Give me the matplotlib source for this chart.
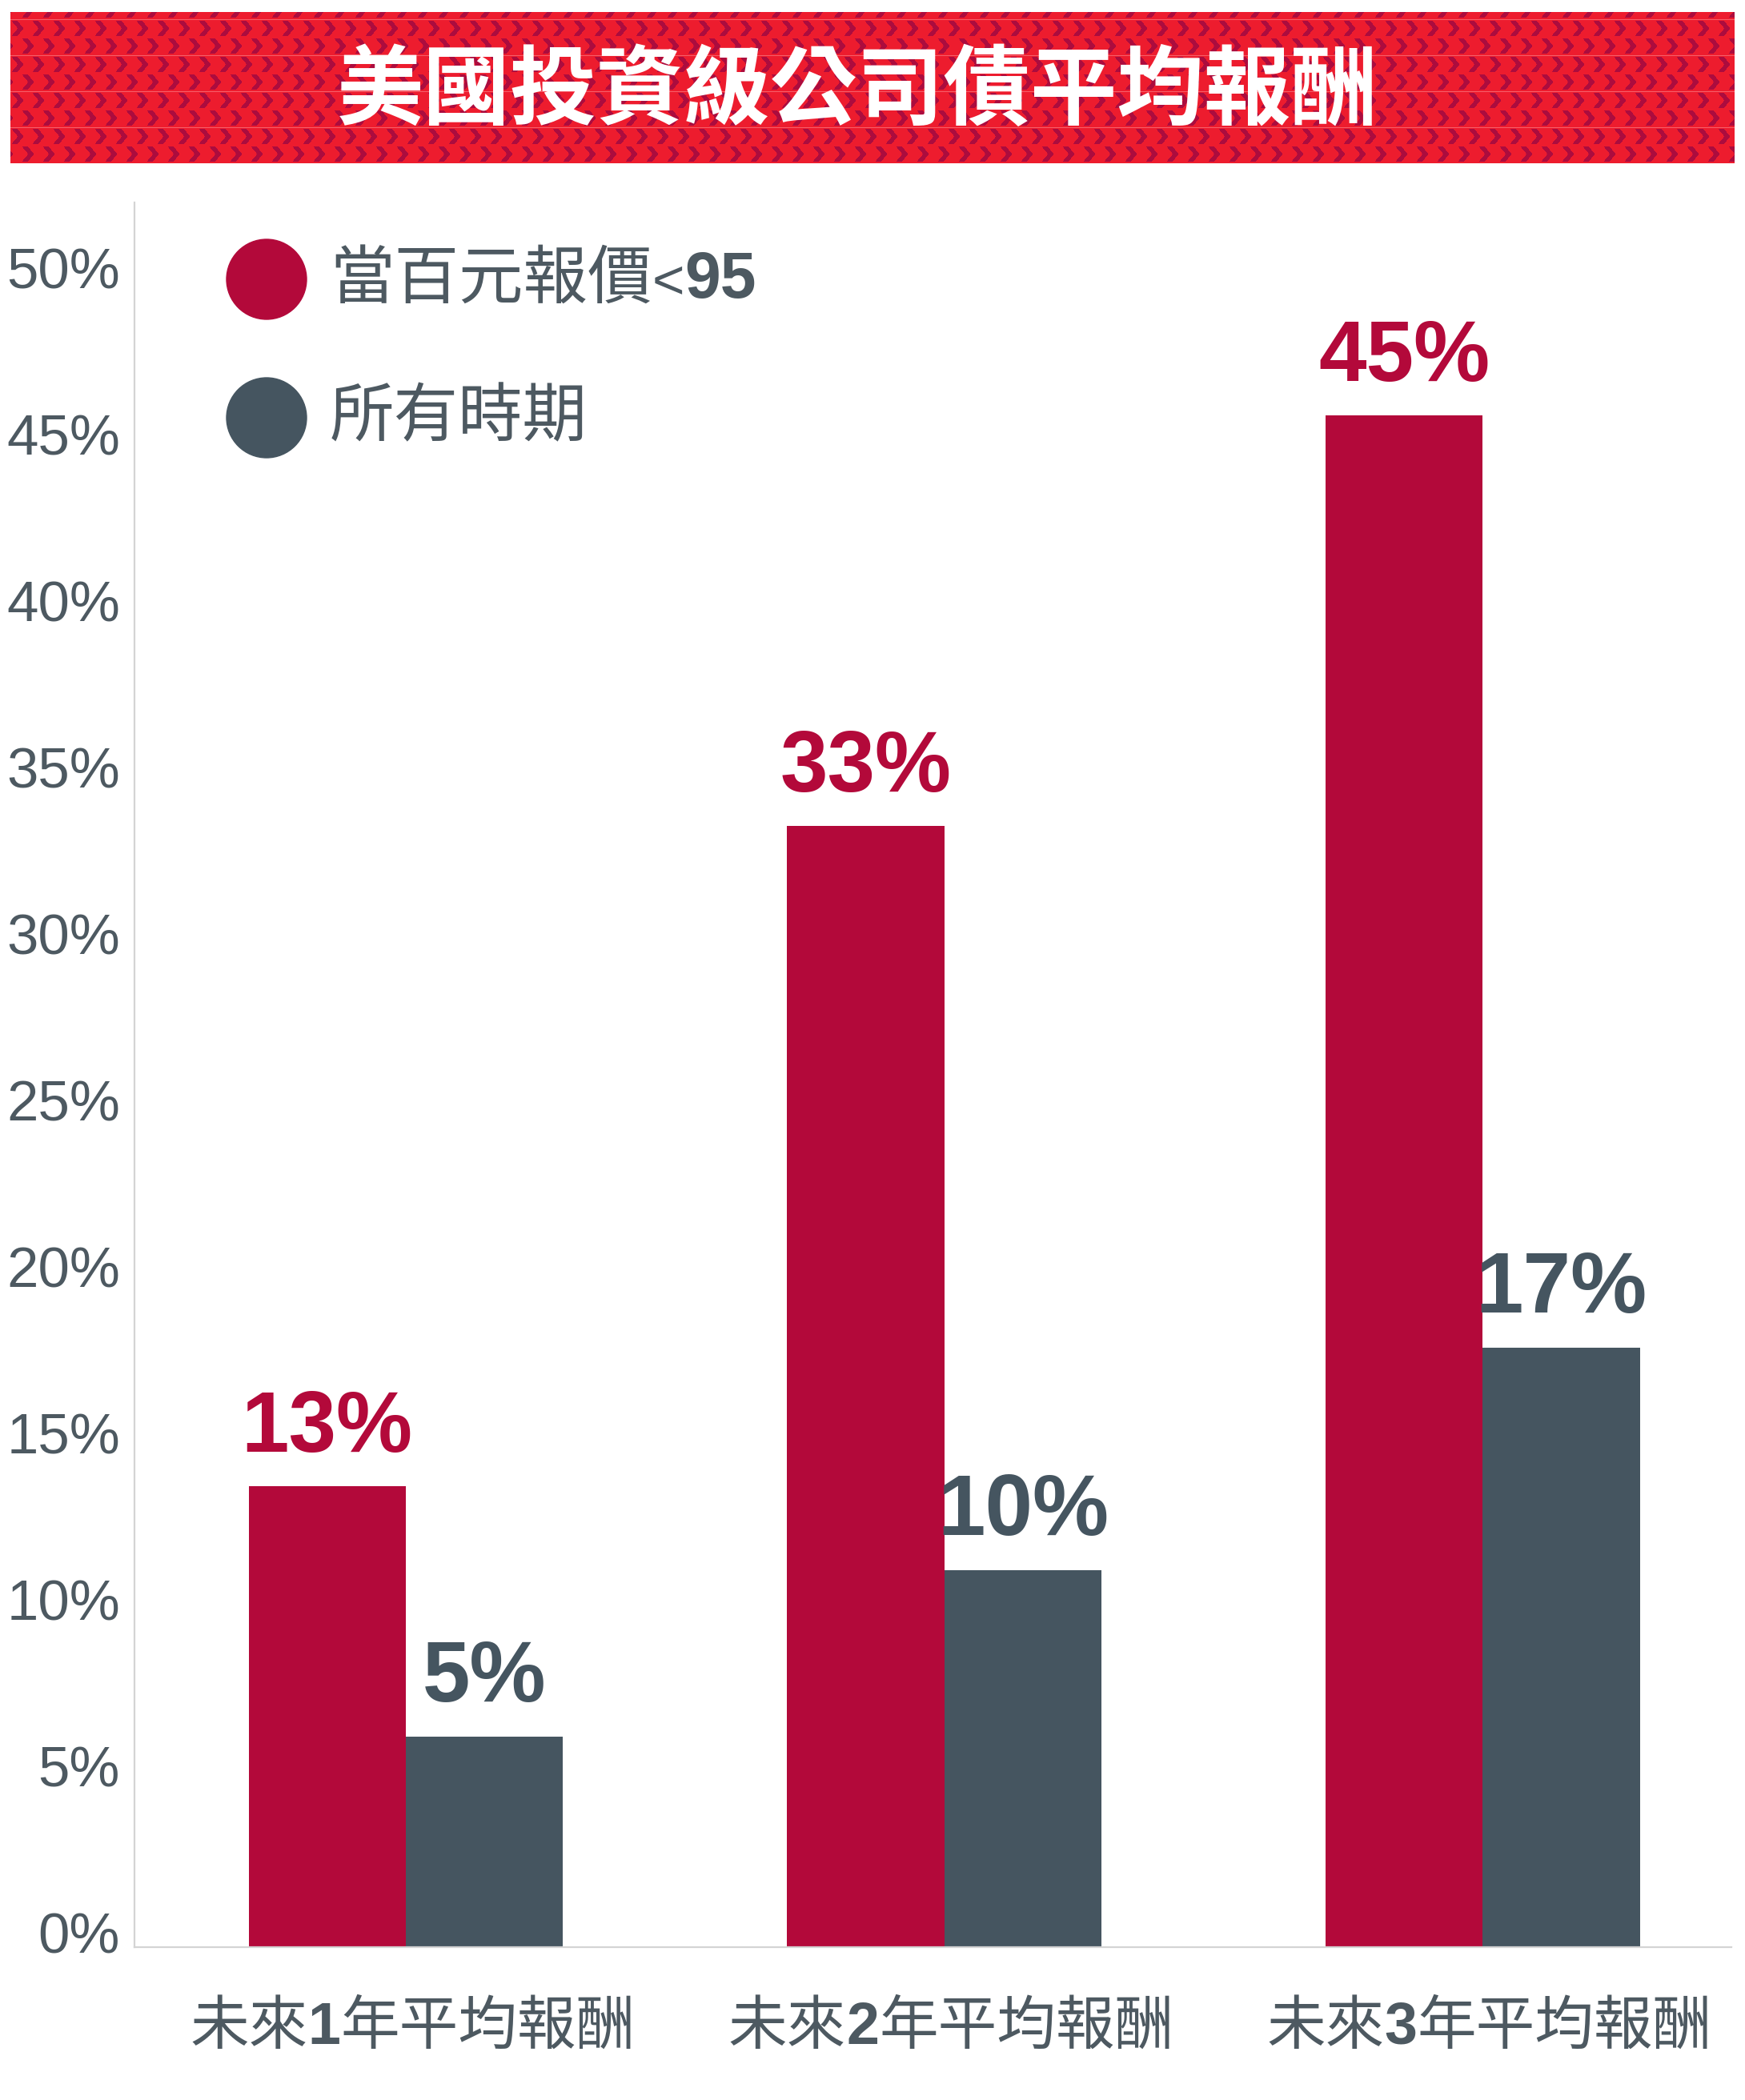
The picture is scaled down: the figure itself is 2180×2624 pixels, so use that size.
import re
import numpy as np
import matplotlib
matplotlib.use("Agg")
import matplotlib.pyplot as plt
from matplotlib.offsetbox import TextArea, HPacker, AnnotationBbox
from matplotlib.transforms import ScaledTranslation
from matplotlib.patches import Circle

plt.rcParams['font.family'] = ['Liberation Sans', 'Noto Sans CJK TC', 'DejaVu Sans']

# ---------------- data ----------------
title = "美國投資級公司債平均報酬"
categories = ["未來1年平均報酬", "未來2年平均報酬", "未來3年平均報酬"]
series_names = ["當百元報價<95", "所有時期"]
discount_values = [13.85, 33.68, 46.0]
all_period_values = [6.32, 11.32, 18.0]
discount_labels = ["13%", "33%", "45%"]
all_period_labels = ["5%", "10%", "17%"]
y_ticks = [0, 5, 10, 15, 20, 25, 30, 35, 40, 45, 50]
y_tick_labels = ["0%", "5%", "10%", "15%", "20%", "25%", "30%", "35%", "40%", "45%", "50%"]

# ---------------- style ----------------
RED = '#B3093A'
GRAY = '#455560'
TXT = '#4D5961'
CJK = ['Noto Sans CJK TC', 'DejaVu Sans']
LAT = ['Liberation Sans', 'DejaVu Sans']

W, H, DPI = 2180, 2624, 100
fig = plt.figure(figsize=(W / DPI, H / DPI), dpi=DPI)
fig.patch.set_facecolor('white')

# ---------------- banner (decorative pattern) ----------------
bx0, bx1, by0, by1 = 13, 2167, 15, 204
bh, bw_ = by1 - by0, bx1 - bx0
yy, xx = np.mgrid[0:bh, 0:bw_]
base = np.array([237, 28, 46]) / 255
dark = np.array([172, 12, 62]) / 255
light = np.array([246, 95, 105]) / 255
img = np.ones((bh, bw_, 3)) * base
band = (yy - 9) % 45
sub = (band >= 22).astype(int)
v = np.where(band < 22, band - 2, band - 24)
valid = (v >= 0) & (v < 19)
xs = (xx + sub * 13) % 26
apex = 9 - np.abs(v - 9)
center = 5 + apex * 0.8
mask = valid & (np.abs(xs - center) < 3.6)
img[mask] = dark
img[band == 0] = light
fig.figimage(img, xo=bx0, yo=H - by1, origin='upper', zorder=0)

fig.text(1071 / W, 1 - 116 / H, title, ha='center', va='center', color='white',
         fontsize=78, fontweight='bold', family=CJK, zorder=5)

# ---------------- axes ----------------
ax = fig.add_axes([168 / W, 1 - 2433 / H, (2163 - 168) / W, (2433 - 253) / H])
x = np.arange(len(categories))
bw = 0.292
ax.bar(x - bw / 2, discount_values, bw, color=RED, zorder=2)
ax.bar(x + bw / 2, all_period_values, bw, color=GRAY, zorder=2)
ax.set_xlim(-0.504, 2.462)
ax.set_ylim(0, 52.4)

for s in ['top', 'right']:
    ax.spines[s].set_visible(False)
for s in ['left', 'bottom']:
    ax.spines[s].set_color('#D4D4D4')
    ax.spines[s].set_linewidth(1.6)

ax.set_xticks([])
ax.set_yticks(y_ticks)
ax.set_yticklabels(y_tick_labels)
ax.tick_params(axis='y', length=0, pad=13, labelsize=51, labelcolor=TXT)
shift = ScaledTranslation(0, 18 / DPI, fig.dpi_scale_trans)
for lab in ax.get_yticklabels():
    lab.set_transform(lab.get_transform() + shift)

# value labels
for i in range(len(categories)):
    ax.annotate(discount_labels[i], (x[i] - bw / 2, discount_values[i]), xytext=(0, 31),
                textcoords='offset points', ha='center', va='baseline', fontsize=77,
                fontweight='bold', color=RED, family=LAT)
    ax.annotate(all_period_labels[i], (x[i] + bw / 2, all_period_values[i]), xytext=(0, 32),
                textcoords='offset points', ha='center', va='baseline', fontsize=77,
                fontweight='bold', color=GRAY, family=LAT)

# category labels (digit in bold)
for i, cat in enumerate(categories):
    m = re.match(r'(\D*)(\d+)(\D*)', cat)
    parts = [TextArea(m.group(1), textprops=dict(fontsize=53, color=TXT, family=CJK)),
             TextArea(m.group(2), textprops=dict(fontsize=53, color=TXT, family=LAT, fontweight='bold')),
             TextArea(m.group(3), textprops=dict(fontsize=53, color=TXT, family=CJK))]
    box = HPacker(children=parts, align='baseline', pad=0, sep=0)
    ab = AnnotationBbox(box, (x[i], 0), xycoords=('data', 'axes fraction'),
                        xybox=(6, -72), boxcoords='offset points',
                        box_alignment=(0.5, 0.5), frameon=False, pad=0, annotation_clip=False)
    ax.add_artist(ab)

# legend
colors = [RED, GRAY]
leg_y = [349, 522]
for name, c, ly in zip(series_names, colors, leg_y):
    fig.add_artist(Circle((333 / DPI, (H - ly) / DPI), radius=50 / DPI, color=c,
                          transform=fig.dpi_scale_trans))
    m = re.match(r'(\D*?)(<?)(\d*)$', name)
    parts = [TextArea(m.group(1), textprops=dict(fontsize=58, color=TXT, family=CJK))]
    if m.group(2):
        parts.append(TextArea(m.group(2), textprops=dict(fontsize=50, color=TXT, family=LAT)))
    if m.group(3):
        parts.append(TextArea(m.group(3), textprops=dict(fontsize=58, color=TXT, family=LAT,
                                                          fontweight='bold')))
    box = HPacker(children=parts, align='baseline', pad=0, sep=0)
    ab = AnnotationBbox(box, (412, H - ly), xycoords='figure pixels', box_alignment=(0, 0.5),
                        frameon=False, pad=0)
    fig.add_artist(ab)

fig.savefig('out.png', dpi=DPI, facecolor='white')
